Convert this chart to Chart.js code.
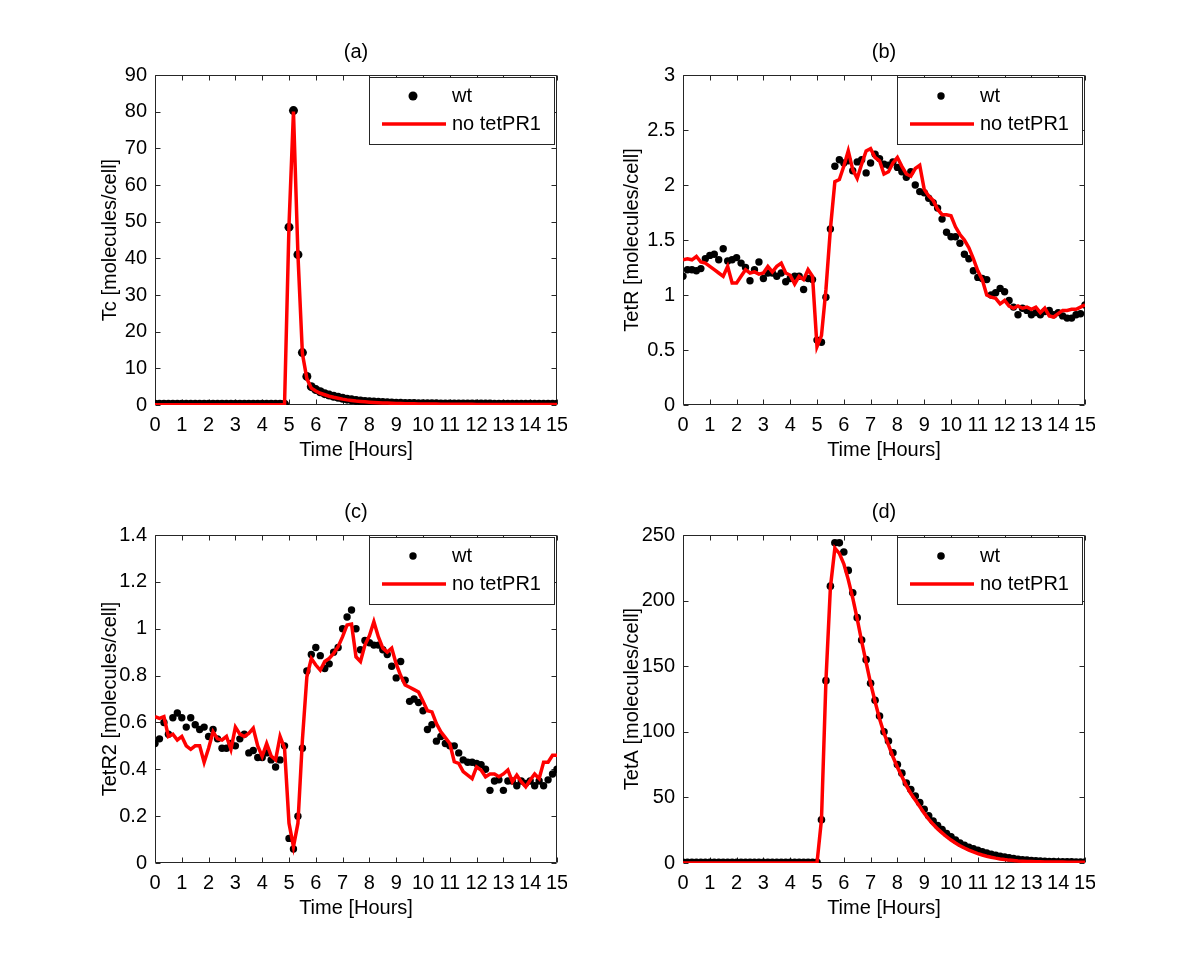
<!DOCTYPE html>
<html lang="en">
<head>
<meta charset="UTF-8">
<title>wt vs no tetPR1</title>
<script src="https://cdn.jsdelivr.net/npm/chart.js"></script>
<style>
    body {
        margin: 0;
        background: #ffffff;
        width: 1200px;
        height: 972px;
        position: relative;
        overflow: hidden;
    }
    canvas {
        position: absolute;
    }
</style>
</head>
<body>
<canvas id="chart_a" width="477" height="450" style="left:90px;top:30px"></canvas>
<canvas id="chart_b" width="480" height="450" style="left:615px;top:30px"></canvas>
<canvas id="chart_c" width="477" height="448" style="left:90px;top:490px"></canvas>
<canvas id="chart_d" width="480" height="448" style="left:615px;top:490px"></canvas>

<script>
// sampling times, minutes after start (every 10 min, 0..15 h)
const minutes = [
    0, 10, 20, 30, 40, 50, 60, 70, 80, 90,
    100, 110, 120, 130, 140, 150, 160, 170, 180, 190,
    200, 210, 220, 230, 240, 250, 260, 270, 280, 290,
    300, 310, 320, 330, 340, 350, 360, 370, 380, 390,
    400, 410, 420, 430, 440, 450, 460, 470, 480, 490,
    500, 510, 520, 530, 540, 550, 560, 570, 580, 590,
    600, 610, 620, 630, 640, 650, 660, 670, 680, 690,
    700, 710, 720, 730, 740, 750, 760, 770, 780, 790,
    800, 810, 820, 830, 840, 850, 860, 870, 880, 890,
    900
];

// (a) Tc
const tcWt = [
    0.2, 0.2, 0.2, 0.2, 0.2, 0.2, 0.2, 0.2, 0.2, 0.2,
    0.2, 0.2, 0.2, 0.2, 0.2, 0.2, 0.2, 0.2, 0.2, 0.2,
    0.2, 0.2, 0.2, 0.2, 0.2, 0.2, 0.2, 0.2, 0.2, 0.2,
    48.5, 80.3, 41, 14.3, 7.8, 5.0, 4.2, 3.6, 3.1, 2.7,
    2.4, 2.1, 1.85, 1.6, 1.4, 1.25, 1.1, 0.98, 0.88, 0.8,
    0.72, 0.65, 0.6, 0.55, 0.5, 0.46, 0.43, 0.4, 0.38, 0.36,
    0.34, 0.33, 0.32, 0.31, 0.3, 0.29, 0.28, 0.27, 0.27, 0.26,
    0.26, 0.25, 0.25, 0.24, 0.24, 0.24, 0.23, 0.23, 0.23, 0.22,
    0.22, 0.22, 0.22, 0.21, 0.21, 0.21, 0.21, 0.2, 0.2, 0.2,
    0.2
];
const tcNoPR1 = [
    0.1, 0.1, 0.1, 0.1, 0.1, 0.1, 0.1, 0.1, 0.1, 0.1,
    0.1, 0.1, 0.1, 0.1, 0.1, 0.1, 0.1, 0.1, 0.1, 0.1,
    0.1, 0.1, 0.1, 0.1, 0.1, 0.1, 0.1, 0.1, 0.1, 0.1,
    49, 80, 41, 14, 7.2, 4.6, 3.8, 3.2, 2.8, 2.4,
    2.1, 1.85, 1.6, 1.4, 1.25, 1.1, 0.98, 0.88, 0.78, 0.7,
    0.63, 0.57, 0.52, 0.47, 0.43, 0.4, 0.37, 0.34, 0.32, 0.3,
    0.28, 0.26, 0.25, 0.24, 0.23, 0.22, 0.21, 0.2, 0.19, 0.19,
    0.18, 0.18, 0.17, 0.17, 0.17, 0.16, 0.16, 0.16, 0.15, 0.15,
    0.15, 0.15, 0.14, 0.14, 0.14, 0.14, 0.14, 0.13, 0.13, 0.13,
    0.13
];

// (b) TetR
const tetrWt = [
    1.17, 1.23, 1.23, 1.22, 1.24, 1.33, 1.36, 1.37, 1.32, 1.42,
    1.31, 1.32, 1.34, 1.29, 1.25, 1.13, 1.23, 1.30, 1.15, 1.20,
    1.20, 1.17, 1.20, 1.12, 1.15, 1.17, 1.17, 1.05, 1.15, 1.14,
    0.59, 0.57, 0.98, 1.60, 2.17, 2.23, 2.20, 2.22, 2.13, 2.21,
    2.23, 2.11, 2.20, 2.28, 2.24, 2.19, 2.18, 2.21, 2.16, 2.12,
    2.07, 2.12, 2.00, 1.94, 1.93, 1.88, 1.84, 1.79, 1.69, 1.57,
    1.53, 1.53, 1.47, 1.37, 1.33, 1.22, 1.16, 1.15, 1.14, 1.00,
    1.02, 1.06, 1.03, 0.95, 0.89, 0.82, 0.88, 0.86, 0.82, 0.84,
    0.82, 0.85, 0.86, 0.82, 0.84, 0.81, 0.79, 0.79, 0.82, 0.83,
    0.91
];
const tetrNoPR1 = [
    1.32, 1.33, 1.32, 1.35, 1.30, 1.29, 1.26, 1.23, 1.20, 1.17,
    1.26, 1.11, 1.11, 1.17, 1.23, 1.20, 1.21, 1.19, 1.20, 1.26,
    1.21, 1.26, 1.29, 1.20, 1.18, 1.10, 1.17, 1.14, 1.23, 1.17,
    0.53, 0.63, 1.05, 1.60, 2.03, 2.05, 2.17, 2.31, 2.14, 2.06,
    2.19, 2.31, 2.33, 2.25, 2.22, 2.10, 2.12, 2.20, 2.25, 2.17,
    2.10, 2.08, 2.15, 2.18, 1.96, 1.90, 1.86, 1.78, 1.73, 1.73,
    1.72, 1.62, 1.55, 1.50, 1.43, 1.33, 1.22, 1.14, 1.00, 0.98,
    0.97, 0.92, 0.95, 0.90, 0.88, 0.90, 0.88, 0.89, 0.87, 0.89,
    0.84, 0.88, 0.81, 0.80, 0.83, 0.86, 0.86, 0.87, 0.87, 0.89,
    0.91
];

// (c) TetR2
const tetr2Wt = [
    0.51, 0.53, 0.60, 0.55, 0.62, 0.64, 0.62, 0.58, 0.62, 0.59,
    0.57, 0.58, 0.54, 0.57, 0.53, 0.49, 0.49, 0.51, 0.50, 0.53,
    0.55, 0.47, 0.48, 0.45, 0.45, 0.47, 0.44, 0.41, 0.44, 0.50,
    0.105, 0.06, 0.20, 0.49, 0.82, 0.89, 0.92, 0.885, 0.83, 0.85,
    0.90, 0.92, 1.00, 1.05, 1.08, 1.00, 0.91, 0.95, 0.94, 0.93,
    0.93, 0.91, 0.89, 0.84, 0.79, 0.86, 0.78, 0.69, 0.70, 0.685,
    0.65, 0.57, 0.59, 0.52, 0.54, 0.51, 0.50, 0.50, 0.47, 0.44,
    0.43, 0.43, 0.425, 0.42, 0.40, 0.31, 0.35, 0.355, 0.31, 0.35,
    0.35, 0.33, 0.35, 0.34, 0.35, 0.33, 0.35, 0.33, 0.355, 0.38,
    0.40
];
const tetr2NoPR1 = [
    0.625, 0.617, 0.625, 0.54, 0.55, 0.525, 0.54, 0.50, 0.485, 0.50,
    0.50, 0.43, 0.49, 0.56, 0.53, 0.525, 0.54, 0.485, 0.58, 0.55,
    0.54, 0.553, 0.575, 0.50, 0.455, 0.51, 0.457, 0.44, 0.54, 0.49,
    0.17, 0.07, 0.17, 0.525, 0.795, 0.873, 0.845, 0.823, 0.86, 0.873,
    0.895, 0.923, 0.966, 1.016, 1.02, 0.88, 0.86, 0.93, 0.97, 1.03,
    0.966, 0.917, 0.90, 0.917, 0.85, 0.80, 0.76, 0.75, 0.74, 0.73,
    0.69, 0.65, 0.645, 0.595, 0.56, 0.535, 0.51, 0.432, 0.425, 0.39,
    0.375, 0.36, 0.41, 0.397, 0.368, 0.38, 0.38, 0.368, 0.38, 0.397,
    0.347, 0.375, 0.347, 0.325, 0.354, 0.38, 0.36, 0.43, 0.43, 0.46,
    0.46
];

// (d) TetA
const tetaWt = [
    0.5, 0.5, 0.5, 0.5, 0.5, 0.5, 0.5, 0.5, 0.5, 0.5,
    0.5, 0.5, 0.5, 0.5, 0.5, 0.5, 0.5, 0.5, 0.5, 0.5,
    0.5, 0.5, 0.5, 0.5, 0.5, 0.5, 0.5, 0.5, 0.5, 0.5,
    0.5, 33, 139, 211, 244, 244, 237, 223, 206, 187,
    170, 155, 137, 124, 112, 100, 93, 84, 75, 68.5,
    61, 56, 51, 46, 41, 36, 32, 28.5, 25.5, 22.5,
    20, 17.5, 15.3, 13.5, 12, 10.8, 9.7, 8.6, 7.6, 6.7,
    5.9, 5.2, 4.5, 3.9, 3.4, 2.9, 2.5, 2.2, 1.9, 1.7,
    1.5, 1.3, 1.2, 1.1, 1.0, 0.95, 0.9, 0.85, 0.8, 0.8,
    0.8
];
const tetaNoPR1 = [
    0, 0, 0, 0, 0, 0, 0, 0, 0, 0,
    0, 0, 0, 0, 0, 0, 0, 0, 0, 0,
    0, 0, 0, 0, 0, 0, 0, 0, 0, 0,
    0, 33, 139, 210, 240, 236, 228, 216, 202, 186,
    169, 153, 137, 123, 110, 99, 90, 81, 73, 66,
    59, 53, 48, 43, 38, 33.5, 29.5, 26, 23, 20,
    17.5, 15.2, 13.2, 11.4, 9.8, 8.4, 7.2, 6.1, 5.2, 4.4,
    3.7, 3.1, 2.6, 2.2, 1.9, 1.6, 1.4, 1.2, 1.1, 1.0,
    0.9, 0.85, 0.8, 0.75, 0.7, 0.7, 0.65, 0.65, 0.6, 0.6,
    0.6
];

const FONT = "'Liberation Sans', Arial, sans-serif";
Chart.defaults.font.family = FONT;
Chart.defaults.font.size = 20;
Chart.defaults.color = '#000000';

function pts(ys) {
    return ys.map((y, i) => ({ x: minutes[i] / 60, y: y }));
}

// matlab style box: frame, inward ticks on all sides, panel title, legend inside top-right
const matlabBox = {
    id: 'matlabBox',
    beforeDatasetsDraw(chart) {
        const { ctx, chartArea: a, scales: { x, y } } = chart;
        const L = Math.round(a.left) + 0.5, R = Math.round(a.right) - 0.5;
        const T = Math.round(a.top) + 0.5, B = Math.round(a.bottom) - 0.5;
        ctx.save();
        ctx.strokeStyle = '#262626';
        ctx.lineWidth = 1;
        ctx.beginPath();
        ctx.rect(L, T, R - L, B - T);
        x.ticks.forEach(t => {
            const px = Math.round(x.getPixelForValue(t.value)) + 0.5;
            ctx.moveTo(px, B); ctx.lineTo(px, B - 5);
            ctx.moveTo(px, T); ctx.lineTo(px, T + 5);
        });
        y.ticks.forEach(t => {
            const py = Math.round(y.getPixelForValue(t.value)) + 0.5;
            ctx.moveTo(L, py); ctx.lineTo(L + 5, py);
            ctx.moveTo(R, py); ctx.lineTo(R - 5, py);
        });
        ctx.stroke();

        // title centred over the axes box
        ctx.fillStyle = '#000000';
        ctx.font = '20px ' + FONT;
        ctx.textAlign = 'center';
        ctx.textBaseline = 'middle';
        ctx.fillText(chart.options.panelTitle, (a.left + a.right) / 2, a.top - 23);
        ctx.restore();
    },
    afterDatasetsDraw(chart) {
        const { ctx, chartArea: a } = chart;
        const dots = chart.data.datasets[0];
        const line = chart.data.datasets[1];
        const w = 185, h = 67;
        const bx = Math.round(a.right - 3 - w), by = Math.round(a.top + 2);
        ctx.save();
        ctx.fillStyle = '#ffffff';
        ctx.fillRect(bx, by, w, h);
        ctx.strokeStyle = '#262626';
        ctx.lineWidth = 1;
        ctx.strokeRect(bx + 0.5, by + 0.5, w, h);
        ctx.fillStyle = '#000000';
        ctx.beginPath();
        ctx.arc(bx + 44, by + 19, dots.pointRadius, 0, Math.PI * 2);
        ctx.fill();
        ctx.strokeStyle = line.borderColor;
        ctx.lineWidth = line.borderWidth;
        ctx.beginPath();
        ctx.moveTo(bx + 13, by + 47);
        ctx.lineTo(bx + 77, by + 47);
        ctx.stroke();
        ctx.fillStyle = '#000000';
        ctx.font = '20px ' + FONT;
        ctx.textBaseline = 'middle';
        ctx.fillText(dots.label, bx + 83, by + 19);
        ctx.fillText(line.label, bx + 83, by + 47);
        ctx.restore();
    }
};

function makePanel(id, title, yTitle, yMax, yStep, wt, noPR1, dotR, yAxisW, yTitlePad) {
    return new Chart(document.getElementById(id), {
        type: 'scatter',
        data: {
            datasets: [
                { label: 'wt', data: pts(wt), showLine: false, pointRadius: dotR,
                  pointBackgroundColor: '#000000', pointBorderWidth: 0, order: 1 },
                { label: 'no tetPR1', data: pts(noPR1), showLine: true, borderColor: '#ff0000',
                  borderWidth: 3.5, pointRadius: 0, tension: 0, order: 0 }
            ]
        },
        options: {
            responsive: false,
            animation: false,
            devicePixelRatio: 1,
            panelTitle: title,
            layout: { padding: { left: 0, right: 10, top: 45, bottom: 0 } },
            plugins: {
                legend: { display: false },
                tooltip: { enabled: false },
                title: { display: false }
            },
            scales: {
                x: {
                    type: 'linear', min: 0, max: 15,
                    ticks: { stepSize: 1, autoSkip: false, maxRotation: 0, padding: 8 },
                    grid: { display: false, drawTicks: false },
                    border: { display: false },
                    title: { display: true, text: 'Time [Hours]', font: { size: 20, lineHeight: 1 },
                             padding: { top: 0, bottom: 20 } },
                    afterFit: s => { s.height = 75; s.paddingLeft = 0; s.paddingRight = 0; }
                },
                y: {
                    min: 0, max: yMax,
                    ticks: { stepSize: yStep, padding: 8,
                             callback: v => String(Math.round(v * 100) / 100) },
                    grid: { display: false, drawTicks: false },
                    border: { display: false },
                    title: { display: true, text: yTitle, font: { size: 20, lineHeight: 1 },
                             padding: { top: yTitlePad, bottom: 0 } },
                    afterFit: s => { s.width = yAxisW; s.paddingTop = 0; s.paddingBottom = 0; }
                }
            }
        },
        plugins: [matlabBox]
    });
}

makePanel('chart_a', '(a)', 'Tc [molecules/cell]', 90, 10, tcWt, tcNoPR1, 4.5, 65, 10);
makePanel('chart_b', '(b)', 'TetR [molecules/cell]', 3, 0.5, tetrWt, tetrNoPR1, 3.7, 68, 7);
makePanel('chart_c', '(c)', 'TetR2 [molecules/cell]', 1.4, 0.2, tetr2Wt, tetr2NoPR1, 3.7, 65, 10);
makePanel('chart_d', '(d)', 'TetA [molecules/cell]', 250, 50, tetaWt, tetaNoPR1, 3.8, 68, 7);
</script>
</body>
</html>
